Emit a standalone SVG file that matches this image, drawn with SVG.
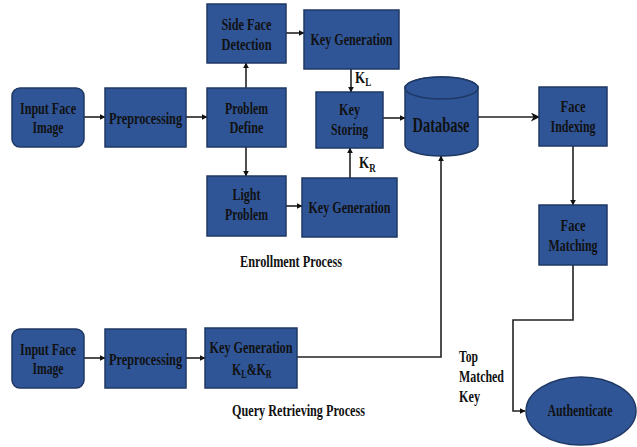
<svg xmlns="http://www.w3.org/2000/svg" width="637" height="447" viewBox="0 0 637 447">
<defs>
<marker id="ah" viewBox="0 0 10 10" refX="9" refY="5" markerWidth="6" markerHeight="6" markerUnits="userSpaceOnUse" orient="auto">
<path d="M0,0 L10,5 L0,10 Z" fill="#111"/>
</marker>
<marker id="ah2" viewBox="0 0 10 10" refX="9" refY="5" markerWidth="9" markerHeight="9" markerUnits="userSpaceOnUse" orient="auto">
<path d="M0,0 L10,5 L0,10 L3,5 Z" fill="#111"/>
</marker>
</defs>
<style>
.box{fill:#2F5597;stroke:#1F3864;stroke-width:1.5}
.t{font-family:"Liberation Serif","Times New Roman",serif;font-weight:bold;font-size:17.5px;fill:#111;text-anchor:middle}
.l{font-family:"Liberation Serif","Times New Roman",serif;font-weight:bold;font-size:17.5px;fill:#111}
.s{font-size:12px}
.c{fill:none;stroke:#222;stroke-width:1.6;marker-end:url(#ah)}
</style>
<rect width="637" height="447" fill="#fff"/>

<g id="connectors">
<path class="c" d="M84,117 L105,117"/>
<path class="c" d="M186,117 L207,117"/>
<path class="c" d="M246,88 L246,63"/>
<path class="c" d="M246,147 L246,176"/>
<path class="c" d="M286,33 L304,33"/>
<path class="c" d="M286,206 L302,206"/>
<path class="c" d="M351,69 L351,92"/>
<path class="c" d="M350,178 L350,148"/>
<path class="c" d="M383,118 L405,118"/>
<path class="c" d="M478,117 L539,117" style="marker-end:url(#ah2)"/>
<path class="c" d="M573,146 L573,205"/>
<path class="c" d="M573,265 L573,320 L513,320 L513,411 L525,411"/>
<path class="c" d="M84,358 L105,358"/>
<path class="c" d="M186,358 L205,358"/>
<path class="c" d="M297,357 L441,357 L441,156"/>
</g>

<g id="input1"><rect class="box" x="12" y="88" width="72" height="59" rx="8"/><text class="t" x="48" y="114" textLength="56" lengthAdjust="spacingAndGlyphs">Input Face</text><text class="t" x="48" y="133" textLength="31" lengthAdjust="spacingAndGlyphs">Image</text></g>
<g id="pre1"><rect class="box" x="105" y="88" width="81" height="59"/><text class="t" x="145.5" y="124" textLength="73" lengthAdjust="spacingAndGlyphs">Preprocessing</text></g>
<g id="problem"><rect class="box" x="207" y="88" width="79" height="59"/><text class="t" x="246.5" y="114" textLength="43" lengthAdjust="spacingAndGlyphs">Problem</text><text class="t" x="246.5" y="133" textLength="34" lengthAdjust="spacingAndGlyphs">Define</text></g>
<g id="side"><rect class="box" x="207" y="4" width="79" height="59"/><text class="t" x="246.5" y="30" textLength="50" lengthAdjust="spacingAndGlyphs">Side Face</text><text class="t" x="246.5" y="50" textLength="50" lengthAdjust="spacingAndGlyphs">Detection</text></g>
<g id="light"><rect class="box" x="207" y="176" width="79" height="60"/><text class="t" x="246.5" y="200" textLength="28" lengthAdjust="spacingAndGlyphs">Light</text><text class="t" x="246.5" y="220" textLength="43" lengthAdjust="spacingAndGlyphs">Problem</text></g>
<g id="keygen1"><rect class="box" x="304" y="10" width="95" height="59"/><text class="t" x="351.5" y="45" textLength="82" lengthAdjust="spacingAndGlyphs">Key Generation</text></g>
<g id="keystore"><rect class="box" x="316" y="92" width="67" height="56"/><text class="t" x="349.5" y="115" textLength="21" lengthAdjust="spacingAndGlyphs">Key</text><text class="t" x="349.5" y="135" textLength="37" lengthAdjust="spacingAndGlyphs">Storing</text></g>
<g id="keygen2"><rect class="box" x="302" y="178" width="95" height="59"/><text class="t" x="349.5" y="213" textLength="82" lengthAdjust="spacingAndGlyphs">Key Generation</text></g>
<g id="database">
<path class="box" d="M405,88 L405,145 A36.5,11 0 0 0 478,145 L478,88 A36.5,11 0 0 0 405,88 Z"/>
<ellipse class="box" cx="441.5" cy="88" rx="36.5" ry="11"/>
<text class="t" x="441" y="132" style="font-size:21px" textLength="57" lengthAdjust="spacingAndGlyphs">Database</text>
</g>
<g id="faceidx"><rect class="box" x="539" y="87" width="68" height="59"/><text class="t" x="573" y="112" textLength="25" lengthAdjust="spacingAndGlyphs">Face</text><text class="t" x="573" y="132" textLength="45" lengthAdjust="spacingAndGlyphs">Indexing</text></g>
<g id="facematch"><rect class="box" x="539" y="205" width="68" height="60"/><text class="t" x="573" y="231" textLength="25" lengthAdjust="spacingAndGlyphs">Face</text><text class="t" x="573" y="251" textLength="49" lengthAdjust="spacingAndGlyphs">Matching</text></g>
<g id="auth"><ellipse class="box" cx="581" cy="411" rx="55" ry="34"/><text class="t" x="580" y="416" textLength="65" lengthAdjust="spacingAndGlyphs">Authenticate</text></g>

<g id="input2"><rect class="box" x="12" y="329" width="72" height="59" rx="8"/><text class="t" x="48" y="355" textLength="56" lengthAdjust="spacingAndGlyphs">Input Face</text><text class="t" x="48" y="374" textLength="31" lengthAdjust="spacingAndGlyphs">Image</text></g>
<g id="pre2"><rect class="box" x="105" y="329" width="81" height="59"/><text class="t" x="145.5" y="365" textLength="73" lengthAdjust="spacingAndGlyphs">Preprocessing</text></g>
<g id="keygen3"><rect class="box" x="205" y="328" width="92" height="60"/><text class="t" x="251" y="353" textLength="83" lengthAdjust="spacingAndGlyphs">Key Generation</text>
<text class="l" transform="translate(232,375) scale(0.68,1)">K<tspan dy="3" class="s">L</tspan><tspan dy="-3">&amp;K</tspan><tspan dy="3" class="s">R</tspan></text></g>

<g id="labels">
<text class="l" transform="translate(355,83) scale(0.75,1)">K<tspan dy="3" class="s">L</tspan></text>
<text class="l" transform="translate(359,168) scale(0.75,1)">K<tspan dy="4" class="s">R</tspan></text>
<text class="t" x="291" y="267" textLength="102" lengthAdjust="spacingAndGlyphs">Enrollment Process</text>
<text class="t" x="298.5" y="416" textLength="133" lengthAdjust="spacingAndGlyphs">Query Retrieving Process</text>
<text class="l" x="459" y="362" textLength="19" lengthAdjust="spacingAndGlyphs">Top</text>
<text class="l" x="459" y="382" textLength="45" lengthAdjust="spacingAndGlyphs">Matched</text>
<text class="l" x="459" y="402" textLength="21" lengthAdjust="spacingAndGlyphs">Key</text>
</g>
</svg>
